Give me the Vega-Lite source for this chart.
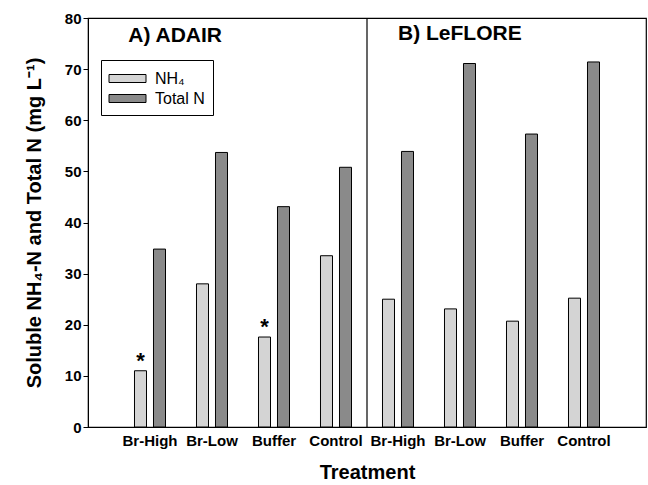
{
  "$schema": "https://vega.github.io/schema/vega-lite/v6.json",
  "width": 558,
  "height": 409,
  "autosize": "none",
  "padding": {"left": 88, "top": 18, "right": 2, "bottom": 58},
  "config": {
    "view": {"stroke": "black", "strokeWidth": 1.2},
    "font": "Liberation Sans"
  },
  "datasets": {
    "bars": [
      {"cat": "ADAIR|Br-High", "series": "NH4", "value": 11.0, "star": "*"},
      {"cat": "ADAIR|Br-High", "series": "Total N", "value": 34.8, "star": ""},
      {"cat": "ADAIR|Br-Low", "series": "NH4", "value": 28.0, "star": ""},
      {"cat": "ADAIR|Br-Low", "series": "Total N", "value": 53.7, "star": ""},
      {"cat": "ADAIR|Buffer", "series": "NH4", "value": 17.6, "star": "*"},
      {"cat": "ADAIR|Buffer", "series": "Total N", "value": 43.1, "star": ""},
      {"cat": "ADAIR|Control", "series": "NH4", "value": 33.5, "star": ""},
      {"cat": "ADAIR|Control", "series": "Total N", "value": 50.8, "star": ""},
      {"cat": "LeFLORE|Br-High", "series": "NH4", "value": 25.0, "star": ""},
      {"cat": "LeFLORE|Br-High", "series": "Total N", "value": 53.9, "star": ""},
      {"cat": "LeFLORE|Br-Low", "series": "NH4", "value": 23.1, "star": ""},
      {"cat": "LeFLORE|Br-Low", "series": "Total N", "value": 71.1, "star": ""},
      {"cat": "LeFLORE|Buffer", "series": "NH4", "value": 20.7, "star": ""},
      {"cat": "LeFLORE|Buffer", "series": "Total N", "value": 57.3, "star": ""},
      {"cat": "LeFLORE|Control", "series": "NH4", "value": 25.2, "star": ""},
      {"cat": "LeFLORE|Control", "series": "Total N", "value": 71.4, "star": ""}
    ]
  },
  "layer": [
    {
      "data": {"name": "bars"},
      "mark": {"type": "bar", "stroke": "black", "strokeWidth": 1},
      "encoding": {
        "x": {
          "field": "cat", "type": "nominal", "sort": null,
          "scale": {"paddingInner": 0, "paddingOuter": 0.5},
          "axis": {
            "title": "Treatment",
            "labelExpr": "split(datum.label, '|')[1]",
            "labelAngle": 0,
            "labelFontSize": 15, "labelFontWeight": "bold", "labelColor": "black",
            "labelPadding": 6,
            "ticks": false, "domain": false,
            "titleFontSize": 20, "titleFontWeight": "bold", "titleColor": "black",
            "titlePadding": 14
          }
        },
        "xOffset": {
          "field": "series", "type": "nominal",
          "scale": {"paddingInner": 0.368, "paddingOuter": 0.815}
        },
        "y": {
          "field": "value", "type": "quantitative",
          "scale": {"domain": [0, 80], "nice": false},
          "axis": {
            "title": "Soluble NH₄-N and Total N (mg L⁻¹)",
            "values": [0, 10, 20, 30, 40, 50, 60, 70, 80],
            "grid": false,
            "labelFontSize": 15, "labelFontWeight": "bold", "labelColor": "black",
            "tickColor": "black", "tickSize": 5, "domainColor": "black",
            "titleFontSize": 20, "titleFontWeight": "bold", "titleColor": "black",
            "titlePadding": 20
          }
        },
        "color": {
          "field": "series", "type": "nominal",
          "scale": {"domain": ["NH4", "Total N"], "range": ["#d4d4d4", "#8a8a8a"]},
          "legend": {
            "title": null,
            "orient": "none", "legendX": 13, "legendY": 42,
            "strokeColor": "black", "fillColor": "white",
            "padding": 8,
            "symbolType": "M-1.85,-0.4L1.85,-0.4L1.85,0.4L-1.85,0.4Z",
            "symbolSize": 400,
            "symbolOffset": 8,
            "labelOffset": 17,
            "symbolStrokeColor": "black", "symbolStrokeWidth": 1,
            "symbolOpacity": 1,
            "labelFontSize": 16, "labelColor": "black",
            "labelExpr": "datum.label == 'NH4' ? 'NH₄' : datum.label",
            "rowPadding": 1
          }
        }
      }
    },
    {
      "data": {"name": "bars"},
      "transform": [{"filter": "datum.star != ''"}],
      "mark": {"type": "text", "fontSize": 22, "fontWeight": "bold", "baseline": "bottom", "dy": 2, "color": "black"},
      "encoding": {
        "x": {"field": "cat", "type": "nominal", "sort": null},
        "xOffset": {"field": "series", "type": "nominal"},
        "y": {"field": "value", "type": "quantitative"},
        "text": {"field": "star"}
      }
    },
    {
      "data": {"values": [{"cat": "LeFLORE|Br-High"}]},
      "mark": {"type": "rule", "color": "black", "strokeWidth": 1.2},
      "encoding": {
        "x": {"field": "cat", "type": "nominal", "bandPosition": 0}
      }
    },
    {
      "data": {"values": [{"cat": "ADAIR|Br-High", "v": 76.4, "label": "A) ADAIR"}]},
      "mark": {"type": "text", "fontSize": 21, "fontWeight": "bold", "align": "left", "baseline": "middle", "color": "black"},
      "encoding": {
        "x": {"field": "cat", "type": "nominal", "bandPosition": 0.15},
        "y": {"field": "v", "type": "quantitative"},
        "text": {"field": "label"}
      }
    },
    {
      "data": {"values": [{"cat": "LeFLORE|Br-High", "v": 76.8, "label": "B) LeFLORE"}]},
      "mark": {"type": "text", "fontSize": 21, "fontWeight": "bold", "align": "left", "baseline": "middle", "color": "black"},
      "encoding": {
        "x": {"field": "cat", "type": "nominal", "bandPosition": 0.5},
        "y": {"field": "v", "type": "quantitative"},
        "text": {"field": "label"}
      }
    }
  ]
}
